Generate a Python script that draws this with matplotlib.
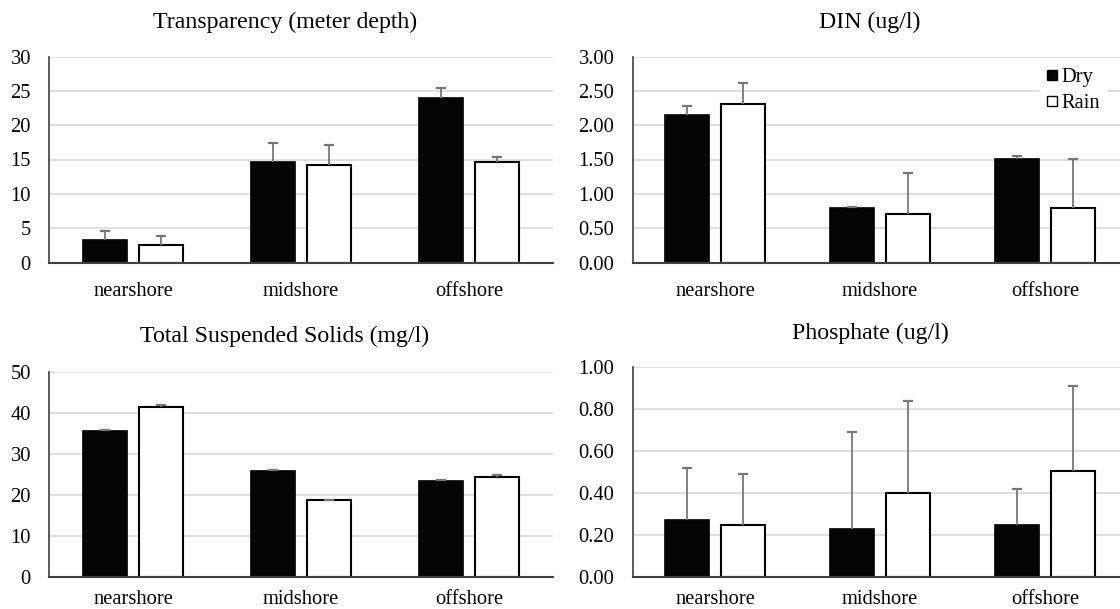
import matplotlib
matplotlib.use("Agg")
import matplotlib.pyplot as plt
import numpy as np
from matplotlib.lines import Line2D

plt.rcParams['font.family'] = ['Liberation Serif', 'DejaVu Serif']

categories = ["nearshore", "midshore", "offshore"]
series = ["Dry", "Rain"]

trans_dry = [3.3, 14.7, 24.0]
trans_rain = [2.6, 14.2, 14.7]
trans_dry_err = [1.3, 2.7, 1.4]
trans_rain_err = [1.2, 2.9, 0.6]

din_dry = [2.15, 0.80, 1.51]
din_rain = [2.31, 0.71, 0.80]
din_dry_err = [0.13, 0.01, 0.04]
din_rain_err = [0.30, 0.60, 0.71]

tss_dry = [35.5, 25.8, 23.4]
tss_rain = [41.4, 18.7, 24.5]
tss_dry_err = [0.3, 0.2, 0.2]
tss_rain_err = [0.5, 0.2, 0.5]

phos_dry = [0.27, 0.23, 0.25]
phos_rain = [0.25, 0.40, 0.505]
phos_dry_err = [0.25, 0.46, 0.17]
phos_rain_err = [0.24, 0.44, 0.405]

panels = [
    dict(title="Transparency (meter depth)", dry=trans_dry, rain=trans_rain,
         dry_err=trans_dry_err, rain_err=trans_rain_err,
         ticks=[0, 5, 10, 15, 20, 25, 30], fmt="{:.0f}",
         pos=[49/1120, 1-262.5/609, 504/1120, 206/609], title_y=22, cx=285, xpad=14),
    dict(title="DIN (ug/l)", dry=din_dry, rain=din_rain,
         dry_err=din_dry_err, rain_err=din_rain_err,
         ticks=[0, 0.5, 1.0, 1.5, 2.0, 2.5, 3.0], fmt="{:.2f}",
         pos=[632.5/1120, 1-262.5/609, 495/1120, 206/609], title_y=22, cx=870, xpad=14),
    dict(title="Total Suspended Solids (mg/l)", dry=tss_dry, rain=tss_rain,
         dry_err=tss_dry_err, rain_err=tss_rain_err,
         ticks=[0, 10, 20, 30, 40, 50], fmt="{:.0f}",
         pos=[49/1120, 1-577/609, 504/1120, 205/609], title_y=336, cx=285, xpad=9),
    dict(title="Phosphate (ug/l)", dry=phos_dry, rain=phos_rain,
         dry_err=phos_dry_err, rain_err=phos_rain_err,
         ticks=[0, 0.2, 0.4, 0.6, 0.8, 1.0], fmt="{:.2f}",
         pos=[632.5/1120, 1-577/609, 495/1120, 210/609], title_y=333, cx=870, xpad=9),
]

fig = plt.figure(figsize=(11.2, 6.09), dpi=100)
x = np.arange(len(categories))
w = 0.265
off = 0.168
fs_tick = 14.8
fs_title = 17.2

def err(ax, xs, vals, errs):
    vals = np.asarray(vals)
    tops = vals + np.asarray(errs)
    ax.vlines(xs, vals, tops, colors="#767676", linewidth=1.3, zorder=4)
    ax.plot(xs, tops, linestyle="none", marker="_", markersize=7,
            markeredgewidth=1.6, color="#767676", zorder=4)

for i, p in enumerate(panels):
    ax = fig.add_axes(p["pos"])
    ax.bar(x - off, p["dry"], w, color="#050505", edgecolor="#000000",
           linewidth=1.2, zorder=3, label="Dry")
    ax.bar(x + off, p["rain"], w, color="white", edgecolor="#000000",
           linewidth=1.5, zorder=3, label="Rain")
    err(ax, x - off, p["dry"], p["dry_err"])
    err(ax, x + off, p["rain"], p["rain_err"])
    ax.set_xlim(-0.5, 2.5)
    ax.set_ylim(p["ticks"][0], p["ticks"][-1])
    ax.set_yticks(p["ticks"])
    ax.set_yticklabels([p["fmt"].format(t) for t in p["ticks"]], fontsize=fs_tick)
    ax.set_xticks(x)
    ax.set_xticklabels(categories, fontsize=fs_tick)
    ax.tick_params(axis="both", length=0)
    ax.tick_params(axis="y", pad=13)
    ax.tick_params(axis="x", pad=p["xpad"])
    ax.yaxis.grid(True, color="#d9d9d9", linewidth=1.2, zorder=0)
    ax.set_axisbelow(True)
    for s in ["top", "right"]:
        ax.spines[s].set_visible(False)
    ax.spines["left"].set_color("#404040")
    ax.spines["left"].set_linewidth(1.2)
    ax.spines["bottom"].set_color("#404040")
    ax.spines["bottom"].set_linewidth(1.5)
    ax.spines["left"].set_zorder(5)
    ax.spines["bottom"].set_zorder(5)
    fig.text(p["cx"] / 1120, 1 - p["title_y"] / 609, p["title"],
             ha="center", va="center", fontsize=fs_title)
    if i == 1:
        handles = [Line2D([], [], marker="s", linestyle="none", markersize=7.5,
                          markerfacecolor="#050505", markeredgecolor="#000000"),
                   Line2D([], [], marker="s", linestyle="none", markersize=7.5,
                          markerfacecolor="white", markeredgecolor="#000000", markeredgewidth=1.0)]
        leg = ax.legend(handles, series, loc="upper left",
                        bbox_to_anchor=((1040 - 632.5) / 495, 0.975),
                        frameon=True, fontsize=fs_tick, handlelength=0.6, handletextpad=0.15,
                        borderpad=0.3, labelspacing=0.3, fancybox=False, borderaxespad=0)
        leg.get_frame().set_edgecolor("white")
        leg.get_frame().set_facecolor("white")
        leg.get_frame().set_alpha(1)

fig.savefig("out.png", dpi=100)
